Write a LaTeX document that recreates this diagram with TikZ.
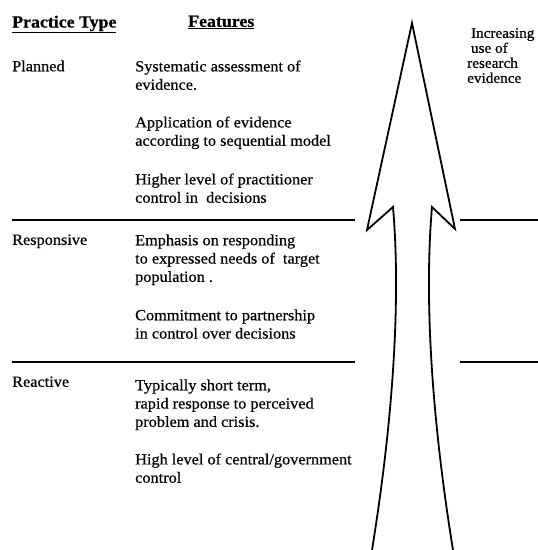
\documentclass[tikz,border=0pt]{standalone}
\usepackage{fontspec}
\setmainfont{Liberation Serif}[FakeStretch=1.05, FakeBold=0.6]
\usetikzlibrary{positioning,calc}

\begin{document}
\begin{tikzpicture}[x=1pt, y=-1pt,
    head/.style={anchor=north west, inner sep=0pt, font=\fontsize{17}{18.3}\selectfont\bfseries},
    ptype/.style={anchor=north west, inner sep=0pt, font=\fontsize{15.5}{18.3}\selectfont},
    feat/.style={anchor=north west, inner sep=0pt, align=left, font=\fontsize{15.5}{18.3}\selectfont},
    side/.style={anchor=north west, inner sep=0pt, align=left, font=\fontsize{14.5}{15}\selectfont},
    rule/.style={line width=1.4pt},
    outline/.style={line width=1.8pt, line join=miter}]
    \useasboundingbox (0,0) rectangle (538,550);

    % Column headings
    \node[head] (htype) at (12,15.5) {\underline{Practice Type}};
    \node[head] (hfeat) at (188,15.5) {\underline{Features}};

    % Planned
    \node[ptype] (planned) at (12,60.3) {Planned};
    \node[feat] (f1) at (135,60.3) {Systematic assessment of\\evidence.};
    \node[feat] (f2) at (135,116.3) {Application of evidence\\according to sequential model};
    \node[feat] (f3) at (135,173.3) {Higher level of practitioner\\control in~~decisions};

    % Responsive
    \node[ptype] (respons) at (12,234.3) {Responsive};
    \node[feat] (f4) at (135,234.3) {Emphasis on responding\\to expressed needs of~~target\\population .};
    \node[feat] (f5) at (135,309.3) {Commitment to partnership\\in control over decisions};

    % Reactive
    \node[ptype] (reactive) at (12,376.3) {Reactive};
    \node[feat] (f6) at (135,379.3) {Typically short term,\\rapid response to perceived\\problem and crisis.};
    \node[feat] (f7) at (135,453.3) {High level of central/government\\control};

    % Side label
    \node[side] (incr) at (467,28) {~Increasing\\~use of\\research\\evidence};

    % Separators
    \draw[rule] (12,220) -- (355,220);
    \draw[rule] (460,220) -- (538,220);
    \draw[rule] (12,362) -- (355,362);
    \draw[rule] (460,362) -- (538,362);

    % Big arrow
    \draw[outline] (372,550) .. controls (393,420) and (401,300) .. (393,207)
        -- (367,230) -- (412,23) -- (455,229) -- (432,207)
        .. controls (424,300) and (432,420) .. (453,550);
\end{tikzpicture}
\end{document}
